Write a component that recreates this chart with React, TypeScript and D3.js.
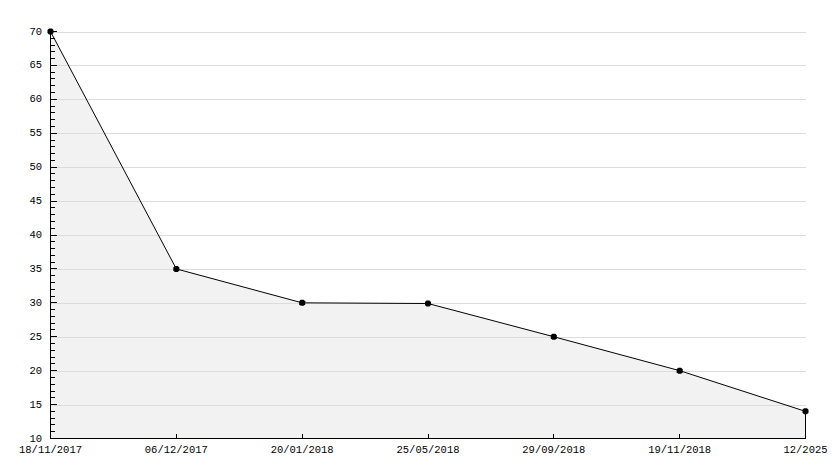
import React from "react";
import * as d3 from "d3";

const categories = ["18/11/2017", "06/12/2017", "20/01/2018", "25/05/2018", "29/09/2018", "19/11/2018", "12/2025"];
const values = [70, 35, 30, 29.9, 25, 20, 14];
const yMajorTicks = [10, 15, 20, 25, 30, 35, 40, 45, 50, 55, 60, 65, 70];
const yMinorTicks = d3.range(10, 71, 1);

const W = 834;
const H = 468;
const left = 50.5;
const right = 805.5;
const top = 31.5;
const bottom = 438.5;

export default function App() {
  const x = d3.scalePoint<string>().domain(categories).range([left, right]);
  const y = d3.scaleLinear().domain([10, 70]).range([bottom, top]);
  const pts = categories.map((c, i) => [x(c) as number, y(values[i])] as [number, number]);
  const line = d3.line<[number, number]>().x((d) => d[0]).y((d) => d[1]);
  const area = d3
    .area<[number, number]>()
    .x((d) => d[0])
    .y0(bottom)
    .y1((d) => d[1]);
  const font = "'Liberation Mono', 'DejaVu Sans Mono', monospace";
  const marker = "M-1.5,-3H1.5L3,-1.5V1.5L1.5,3H-1.5L-3,1.5V-1.5Z";
  return (
    <svg
      width={W}
      height={H}
      style={{ position: "absolute", left: 0, top: 0, background: "#fff" }}
      shapeRendering="crispEdges"
    >
      <rect x={0} y={0} width={W} height={H} fill="#fff" />
      <path d={area(pts) || ""} fill="#f2f2f2" stroke="none" />
      {yMajorTicks.slice(1).map((t) => (
        <line key={"g" + t} x1={left} x2={right} y1={Math.round(y(t))} y2={Math.round(y(t))} stroke="#dcdcdc" />
      ))}
      {/* y axis */}
      <line x1={left} x2={left} y1={top} y2={bottom} stroke="#000" />
      {yMinorTicks.map((t) => (
        <line
          key={"m" + t}
          x1={left}
          x2={left + (t % 5 === 0 ? 6 : 4)}
          y1={Math.round(y(t) - 0.5) + 0.5}
          y2={Math.round(y(t) - 0.5) + 0.5}
          stroke="#000"
        />
      ))}
      {yMajorTicks.map((t) => (
        <text
          key={"yl" + t}
          x={42}
          y={y(t)}
          textAnchor="end"
          dominantBaseline="central"
          fontFamily={font}
          fontSize={10.5}
          fill="#000"
        >
          {t}
        </text>
      ))}
      {/* x axis */}
      <line x1={left} x2={right} y1={bottom} y2={bottom} stroke="#000" />
      {categories.map((c) => (
        <line key={"xt" + c} x1={x(c) as number} x2={x(c) as number} y1={bottom - 5} y2={bottom} stroke="#000" />
      ))}
      <line x1={right} x2={right} y1={pts[pts.length - 1][1]} y2={bottom} stroke="#000" />
      {categories.map((c) => (
        <text
          key={"xl" + c}
          x={x(c) as number}
          y={453}
          textAnchor="middle"
          fontFamily={font}
          fontSize={10.5}
          fill="#000"
        >
          {c}
        </text>
      ))}
      <path d={line(pts) || ""} fill="none" stroke="#000" strokeWidth={1} shapeRendering="auto" />
      {pts.map((p, i) => (
        <path key={"p" + i} d={marker} transform={`translate(${p[0]},${p[1]})`} fill="#000" shapeRendering="auto" />
      ))}
    </svg>
  );
}
